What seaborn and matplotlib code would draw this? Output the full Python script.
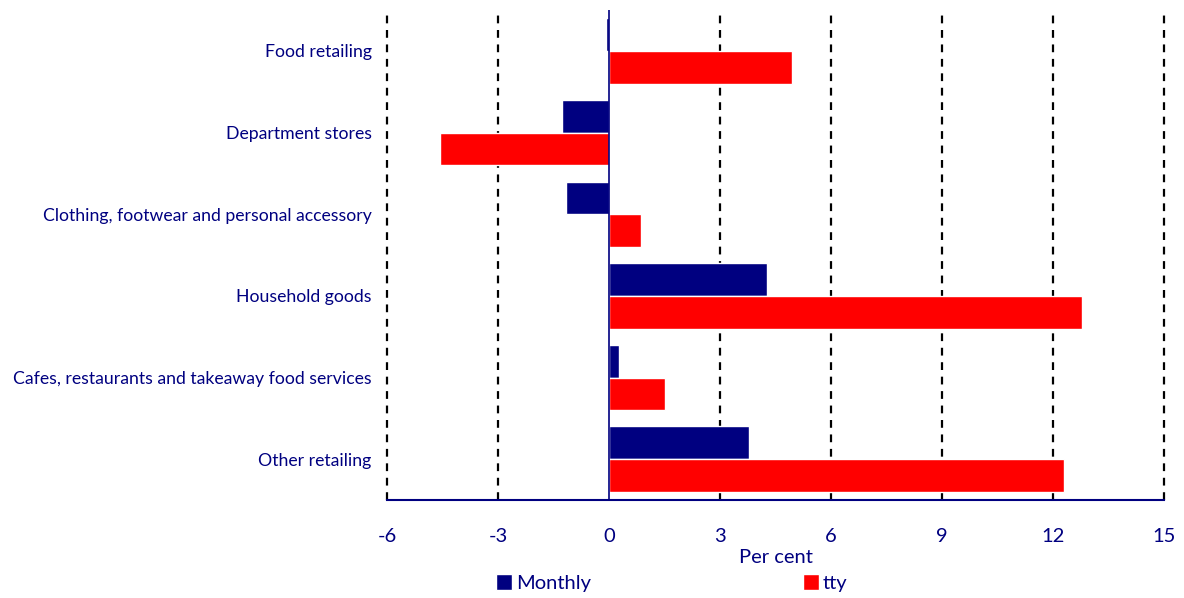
import matplotlib
matplotlib.use("Agg")
import matplotlib.pyplot as plt
import seaborn as sns
import pandas as pd

categories = ["Food retailing", "Department stores",
              "Clothing, footwear and personal accessory", "Household goods",
              "Cafes, restaurants and takeaway food services", "Other retailing"]
monthly = [-0.08, -1.27, -1.16, 4.27, 0.27, 3.78]
tty = [4.95, -4.57, 0.86, 12.78, 1.51, 12.30]
xticks = [-6, -3, 0, 3, 6, 9, 12, 15]

sns.set_theme(style="white")
plt.rcParams['font.family'] = ['Lato', 'DejaVu Sans']
navy = "#000080"

df = pd.DataFrame({
    "Category": categories * 2,
    "Value": monthly + tty,
    "Series": ["Monthly"] * len(categories) + ["tty"] * len(categories),
})

fig = plt.figure(figsize=(11.84, 5.98), dpi=100)
ax = fig.add_axes([387/1184, 1 - 500/598, (1164-387)/1184, 490/598])

sns.barplot(data=df, x="Value", y="Category", hue="Series", orient="h",
            palette={"Monthly": navy, "tty": "#FF0000"}, width=0.8,
            ax=ax, zorder=3, saturation=1)

for v in xticks:
    if v != 0:
        ax.axvline(v, color="black", linestyle=(0, (3.5, 3)), linewidth=1.6,
                   zorder=1, clip_on=False)
ax.axvline(0, color=navy, linewidth=1.2, zorder=4)

ax.set_xlim(-6, 15)
ax.set_xticks(xticks)
ax.set_xticklabels([str(v) for v in xticks], fontsize=14.5, color=navy)
ax.tick_params(axis="x", direction="in", length=6, color=navy, width=1.2, pad=20)
ax.tick_params(axis="y", length=0, pad=11, labelsize=12.7, labelcolor=navy)
ax.set_ylabel("")
ax.set_xlabel("Per cent", fontsize=14.5, color=navy, labelpad=3)

for s in ["top", "right", "left"]:
    ax.spines[s].set_visible(False)
ax.spines["bottom"].set_color(navy)
ax.spines["bottom"].set_linewidth(1.5)

ax.legend_.remove()
handles, labels = ax.get_legend_handles_labels()
fig.legend(handles, labels, loc="center", bbox_to_anchor=(672/1184, 1 - 583/598),
           ncol=2, frameon=False, fontsize=14.5, labelcolor=navy,
           handlelength=0.8, handleheight=0.8, handletextpad=0.2, columnspacing=10.5)

fig.savefig("out.png", dpi=100)
